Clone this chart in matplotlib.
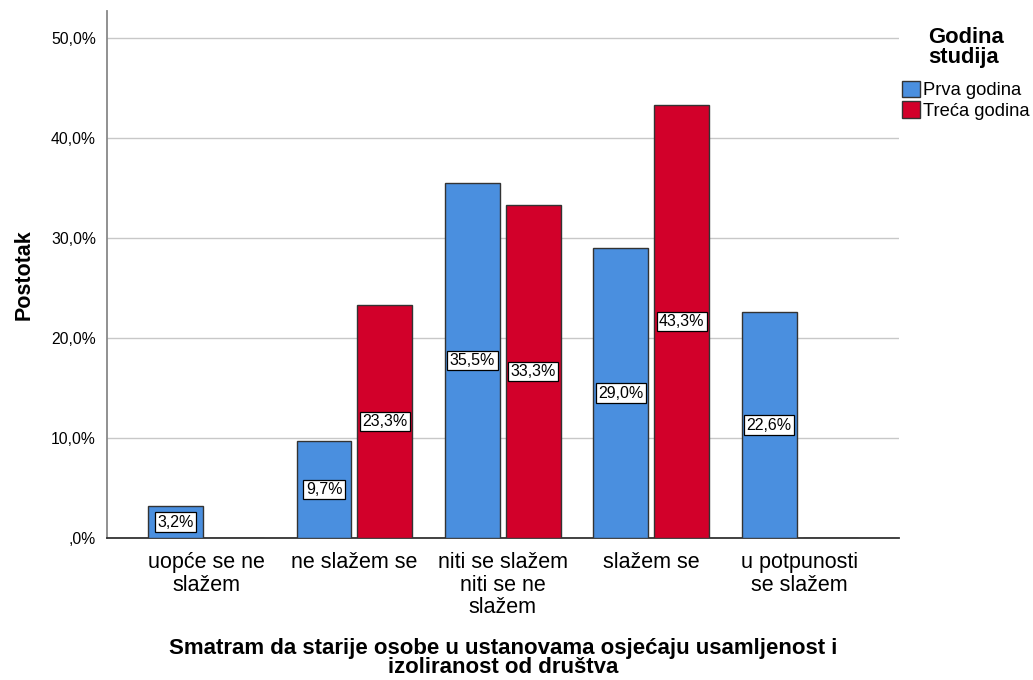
import matplotlib
matplotlib.use("Agg")
import matplotlib.pyplot as plt
import numpy as np
from matplotlib.patches import Patch

plt.rcParams['font.family'] = ['Liberation Sans', 'DejaVu Sans']

categories = ["uopće se ne\nslažem", "ne slažem se", "niti se slažem\nniti se ne\nslažem",
              "slažem se", "u potpunosti\nse slažem"]
prva = [3.2, 9.7, 35.5, 29.0, 22.6]
treca = [0.0, 23.3, 33.3, 43.3, 0.0]
series_names = ["Prva godina", "Treća godina"]
yticks = [0, 10, 20, 30, 40, 50]
ytick_labels = [",0%", "10,0%", "20,0%", "30,0%", "40,0%", "50,0%"]

blue = "#4a8fdf"
red = "#d2002a"
edge = "#333333"

fig = plt.figure(figsize=(10.33, 6.8), dpi=100)
ax = fig.add_axes([0.1036, 0.2088, 0.7664, 0.775])

x = np.arange(len(categories))
w = 0.37
off = 0.205
for xs, vals, col in [(x - off, prva, blue), (x + off, treca, red)]:
    ax.bar(xs, vals, width=w, color=col, edgecolor=edge, linewidth=1.0, zorder=3)
    for xi, v in zip(xs, vals):
        if v > 0:
            ax.text(xi, v / 2, f"{v:.1f}%".replace(".", ","), ha="center", va="center",
                    fontsize=11.5, zorder=4,
                    bbox=dict(boxstyle="square,pad=0.15", fc="white", ec="black", lw=0.9))

ax.set_xlim(-0.667, 4.667)
ax.set_ylim(0, 52.7)
ax.set_yticks(yticks)
ax.set_yticklabels(ytick_labels, fontsize=11.3)
ax.set_xticks(x)
ax.set_xticklabels(categories, fontsize=15.5, linespacing=1.1)
ax.tick_params(axis="both", length=0)
ax.tick_params(axis="x", pad=10)
ax.tick_params(axis="y", pad=8)
ax.grid(axis="y", color="#c8c8c8", linewidth=1.0, zorder=0)
for s in ["top", "right"]:
    ax.spines[s].set_visible(False)
ax.spines["left"].set_color("#888888")
ax.spines["left"].set_linewidth(1.3)
ax.spines["bottom"].set_color("#333333")
ax.spines["bottom"].set_linewidth(1.3)

ax.set_ylabel("Postotak", fontsize=15.5, fontweight="bold", labelpad=12)
ax.set_xlabel("Smatram da starije osobe u ustanovama osjećaju usamljenost i\nizoliranost od društva",
              fontsize=16, fontweight="bold", labelpad=14, linespacing=0.9)

handles = [Patch(facecolor=blue, edgecolor=edge, label=series_names[0]),
           Patch(facecolor=red, edgecolor=edge, label=series_names[1])]
leg = fig.legend(handles=handles, title="Godina\nstudija", loc="upper left",
                 bbox_to_anchor=(0.873, 0.96), frameon=False, fontsize=13.2,
                 title_fontproperties={"weight": "bold", "size": 15.8},
                 handlelength=1.0, handleheight=1.0, handletextpad=0.15, labelspacing=0.1,
                 borderaxespad=0, borderpad=0)
leg.get_title().set_linespacing(0.95)
leg._legend_box.sep = 9

fig.savefig("out.png", dpi=100)
